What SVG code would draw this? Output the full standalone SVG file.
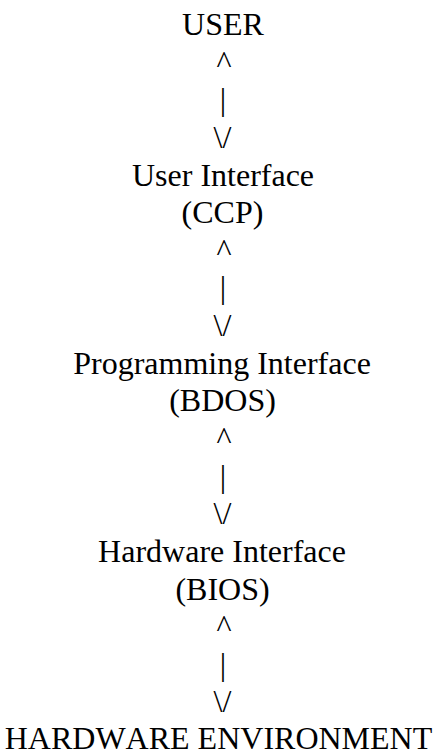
<svg xmlns="http://www.w3.org/2000/svg" width="437" height="755" viewBox="0 0 437 755">
  <style>
    .t {
      font-size: 32px;
      fill: #000;
      text-anchor: middle;
      font-kerning: none;
    }
  </style>
  <rect x="0" y="0" width="437" height="755" fill="#fff"/>

  <g font-family="'Liberation Serif', 'Times New Roman', Times, 'DejaVu Serif', serif">
    <!-- layers of the system, top to bottom -->
    <g id="user">
      <text class="t" x="223" y="35">USER</text>
    </g>
    <g id="ccp">
      <text class="t" x="223" y="185.5">User Interface</text>
      <text class="t" x="222.5" y="223.2">(CCP)</text>
    </g>
    <g id="bdos">
      <text class="t" x="222" y="373.7">Programming Interface</text>
      <text class="t" x="222.5" y="411.3">(BDOS)</text>
    </g>
    <g id="bios">
      <text class="t" x="222" y="561.8">Hardware Interface</text>
      <text class="t" x="222.5" y="599.5">(BIOS)</text>
    </g>
    <g id="hardware">
      <text class="t" x="218.5" y="749">HARDWARE ENVIRONMENT</text>
    </g>

    <!-- two-way links drawn with ^ | \/ characters -->
    <g id="connectors">
      <text class="t" x="224" y="72.6">^</text>
      <text class="t" x="223" y="110.3">|</text>
      <text class="t" x="222.5" y="147.9">\/</text>

      <text class="t" x="224" y="260.8">^</text>
      <text class="t" x="223" y="298.4">|</text>
      <text class="t" x="222.5" y="336">\/</text>

      <text class="t" x="224" y="448.9">^</text>
      <text class="t" x="223" y="486.6">|</text>
      <text class="t" x="222.5" y="524.2">\/</text>

      <text class="t" x="224" y="637.1">^</text>
      <text class="t" x="223" y="674.7">|</text>
      <text class="t" x="222.5" y="712.3">\/</text>
    </g>
  </g>
</svg>
